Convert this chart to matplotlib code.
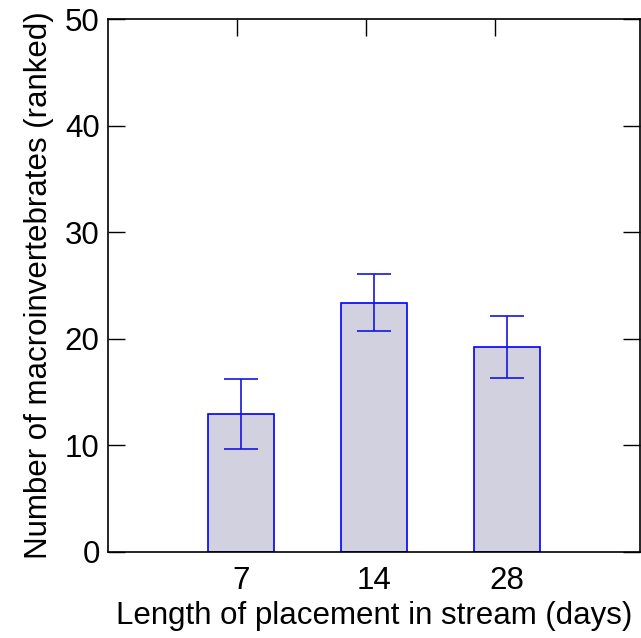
import numpy as np
import matplotlib
matplotlib.use("Agg")
import matplotlib.pyplot as plt

plt.rcParams['font.family'] = ['Liberation Sans', 'DejaVu Sans']

# data
days = ["7", "14", "28"]
means = [12.9, 23.4, 19.2]
errs = [3.3, 2.7, 2.9]

fig = plt.figure(figsize=(6.41, 6.38), dpi=100)
ax = fig.add_axes([0.1685, 0.1353, 0.8299, 0.8344])

x = np.arange(1, len(days) + 1)
ax.bar(x, means, width=0.5, color="#d2d1e0", edgecolor="blue", linewidth=1.2, zorder=2)
ax.errorbar(x, means, yerr=errs, fmt="none", ecolor="#1515e0", elinewidth=1.2,
            capsize=12, capthick=1.2, zorder=3)

ax.set_xlim(0, 4)
ax.set_ylim(0, 50)
ax.set_xticks(x)
ax.set_xticklabels(days)
ax.set_yticks([0, 10, 20, 30, 40, 50])

ax.tick_params(axis="x", length=0, labelsize=22.5, pad=10)
ax.tick_params(axis="y", direction="in", length=12, width=1, labelsize=22.5, pad=6, right=True)

# top ticks sit slightly off the bar centres in the original
top = ax.secondary_xaxis("top")
top.set_xticks([0.968, 1.937, 2.908])
top.tick_params(direction="in", length=12, width=1, labeltop=False)
top.spines["top"].set_visible(False)

for s in ax.spines.values():
    s.set_linewidth(1.2)

ax.set_xlabel("Length of placement in stream (days)", fontsize=22.5, labelpad=4)
ax.set_ylabel("Number of macroinvertebrates (ranked)", fontsize=22.5, labelpad=8)

fig.savefig("out.png", dpi=100)
